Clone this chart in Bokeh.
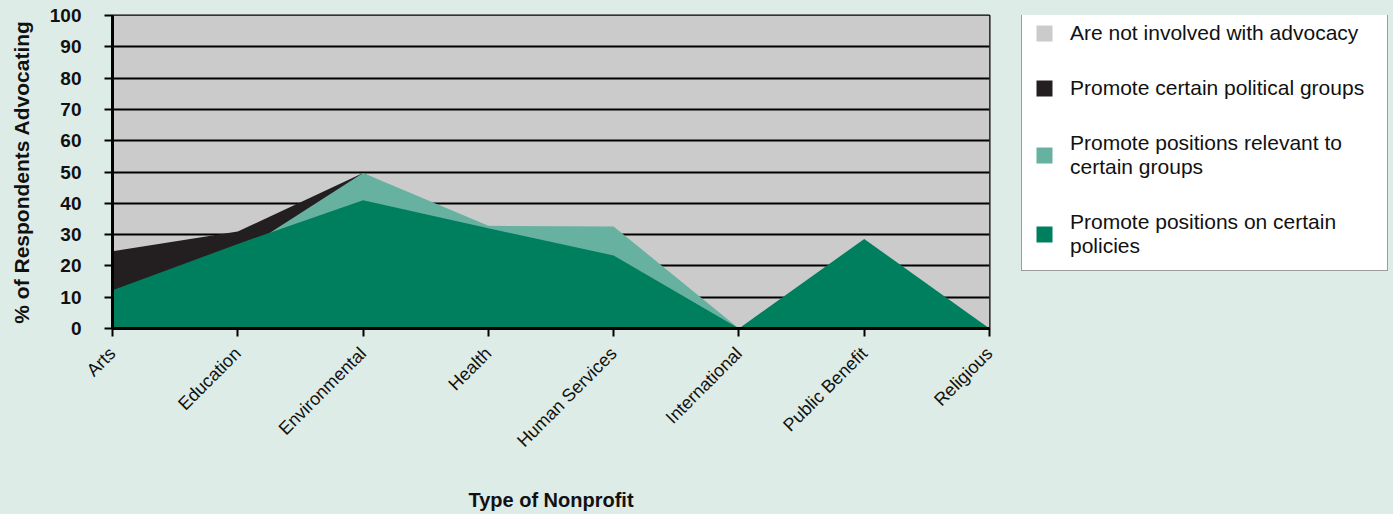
import math
from bokeh.plotting import figure
from bokeh.layouts import row
from bokeh.models import Legend, LegendItem, FixedTicker, Range1d
from bokeh.embed import file_html
from bokeh.resources import INLINE

categories = ["Arts", "Education", "Environmental", "Health", "Human Services",
              "International", "Public Benefit", "Religious"]
not_involved_total = [100, 100, 100, 100, 100, 100, 100, 100]
political_groups = [24.7, 31.0, 49.7, 30.0, 22.0, 0.0, 20.0, 0.0]
relevant_groups = [10.0, 24.0, 49.7, 32.8, 32.6, 0.0, 25.0, 0.0]
certain_policies = [12.2, 27.0, 41.0, 32.0, 23.3, 0.0, 28.6, 0.0]
y_ticks = [0, 10, 20, 30, 40, 50, 60, 70, 80, 90, 100]

labels = ["Are not involved with advocacy",
          "Promote certain political groups",
          "Promote positions relevant to\ncertain groups",
          "Promote positions on certain\npolicies"]
colors = ["#cbcbcb", "#231f20", "#67b1a0", "#007f5f"]

FONT = "Liberation Sans"
BG = "#deece8"
xs = list(range(len(categories)))

p = figure(width=1009, height=514, output_backend="svg", toolbar_location=None,
           x_range=Range1d(0, len(categories) - 1), y_range=Range1d(0, 100),
           min_border_left=112, min_border_right=20, min_border_top=15, min_border_bottom=184)
p.background_fill_color = "#cbcbcb"
p.border_fill_color = BG
p.outline_line_color = "black"
p.outline_line_width = 2

p.varea(x=xs, y1=0, y2=not_involved_total, fill_color=colors[0], level="image")
p.varea(x=xs, y1=0, y2=political_groups, fill_color=colors[1])
p.varea(x=xs, y1=0, y2=relevant_groups, fill_color=colors[2])
p.varea(x=xs, y1=0, y2=certain_policies, fill_color=colors[3])

p.xgrid.visible = False
p.ygrid.ticker = FixedTicker(ticks=y_ticks)
p.ygrid.grid_line_color = "black"
p.ygrid.grid_line_width = 2

# y axis
p.yaxis.ticker = FixedTicker(ticks=y_ticks)
p.yaxis.axis_label = "% of Respondents Advocating"
p.yaxis.axis_label_text_font = FONT
p.yaxis.axis_label_text_font_size = "21px"
p.yaxis.axis_label_text_font_style = "bold"
p.yaxis.axis_label_text_color = "#111111"
p.yaxis.axis_label_standoff = 14
p.yaxis.major_label_text_font = FONT
p.yaxis.major_label_text_font_size = "19px"
p.yaxis.major_label_text_font_style = "bold"
p.yaxis.major_label_text_color = "#111111"
p.yaxis.major_label_standoff = 23
p.yaxis.axis_line_width = 3
p.yaxis.axis_line_color = "black"
p.yaxis.major_tick_line_width = 2
p.yaxis.major_tick_out = 8
p.yaxis.major_tick_in = 0
p.yaxis.minor_tick_line_color = None

# x axis
p.xaxis.ticker = FixedTicker(ticks=xs)
p.xaxis.major_label_overrides = {i: c for i, c in zip(xs, categories)}
p.xaxis.major_label_orientation = math.pi / 4
p.xaxis.major_label_text_font = FONT
p.xaxis.major_label_text_font_size = "18px"
p.xaxis.major_label_text_color = "#111111"
p.xaxis.major_label_standoff = 14
p.xaxis.axis_label = "Type of Nonprofit"
p.xaxis.axis_label_text_font = FONT
p.xaxis.axis_label_text_font_size = "20px"
p.xaxis.axis_label_text_font_style = "bold"
p.xaxis.axis_label_text_color = "#111111"
p.xaxis.axis_label_standoff = 28
p.xaxis.axis_line_width = 3
p.xaxis.axis_line_color = "black"
p.xaxis.major_tick_line_width = 2
p.xaxis.major_tick_out = 8
p.xaxis.major_tick_in = 0
p.xaxis.minor_tick_line_color = None

# legend panel (its frame is aligned with the chart frame by the row layout)
lg = figure(width=384, height=514, output_backend="svg", toolbar_location=None,
            x_range=Range1d(0, 1), y_range=Range1d(0, 1),
            x_axis_location=None, y_axis_location=None,
            min_border_left=0, min_border_right=0, min_border_top=15, min_border_bottom=184)
lg.background_fill_alpha = 0
lg.border_fill_color = BG
lg.outline_line_color = None
lg.xgrid.visible = False
lg.ygrid.visible = False
# zero-area stand-ins that only carry the legend swatch colours
dummies = [lg.varea(x=[0, 0], y1=[0, 0], y2=[0, 0], fill_color=c) for c in colors]

legend = Legend(items=[LegendItem(label=l, renderers=[r]) for l, r in zip(labels, dummies)],
                location=(12, 57))
legend.margin = 0
legend.padding = 12
legend.spacing = 31
legend.glyph_width = 20
legend.glyph_height = 20
legend.label_standoff = 16
legend.label_width = 305
legend.label_text_font = FONT
legend.label_text_font_size = "21px"
legend.label_text_line_height = 1.2
legend.label_text_color = "#111111"
legend.border_line_color = "#3a3a3a"
legend.border_line_width = 1.5
legend.background_fill_color = "white"
legend.background_fill_alpha = 1
lg.add_layout(legend, "center")

layout = row(p, lg, styles={"background-color": BG})
open("out.html", "w").write(file_html(layout, INLINE))
